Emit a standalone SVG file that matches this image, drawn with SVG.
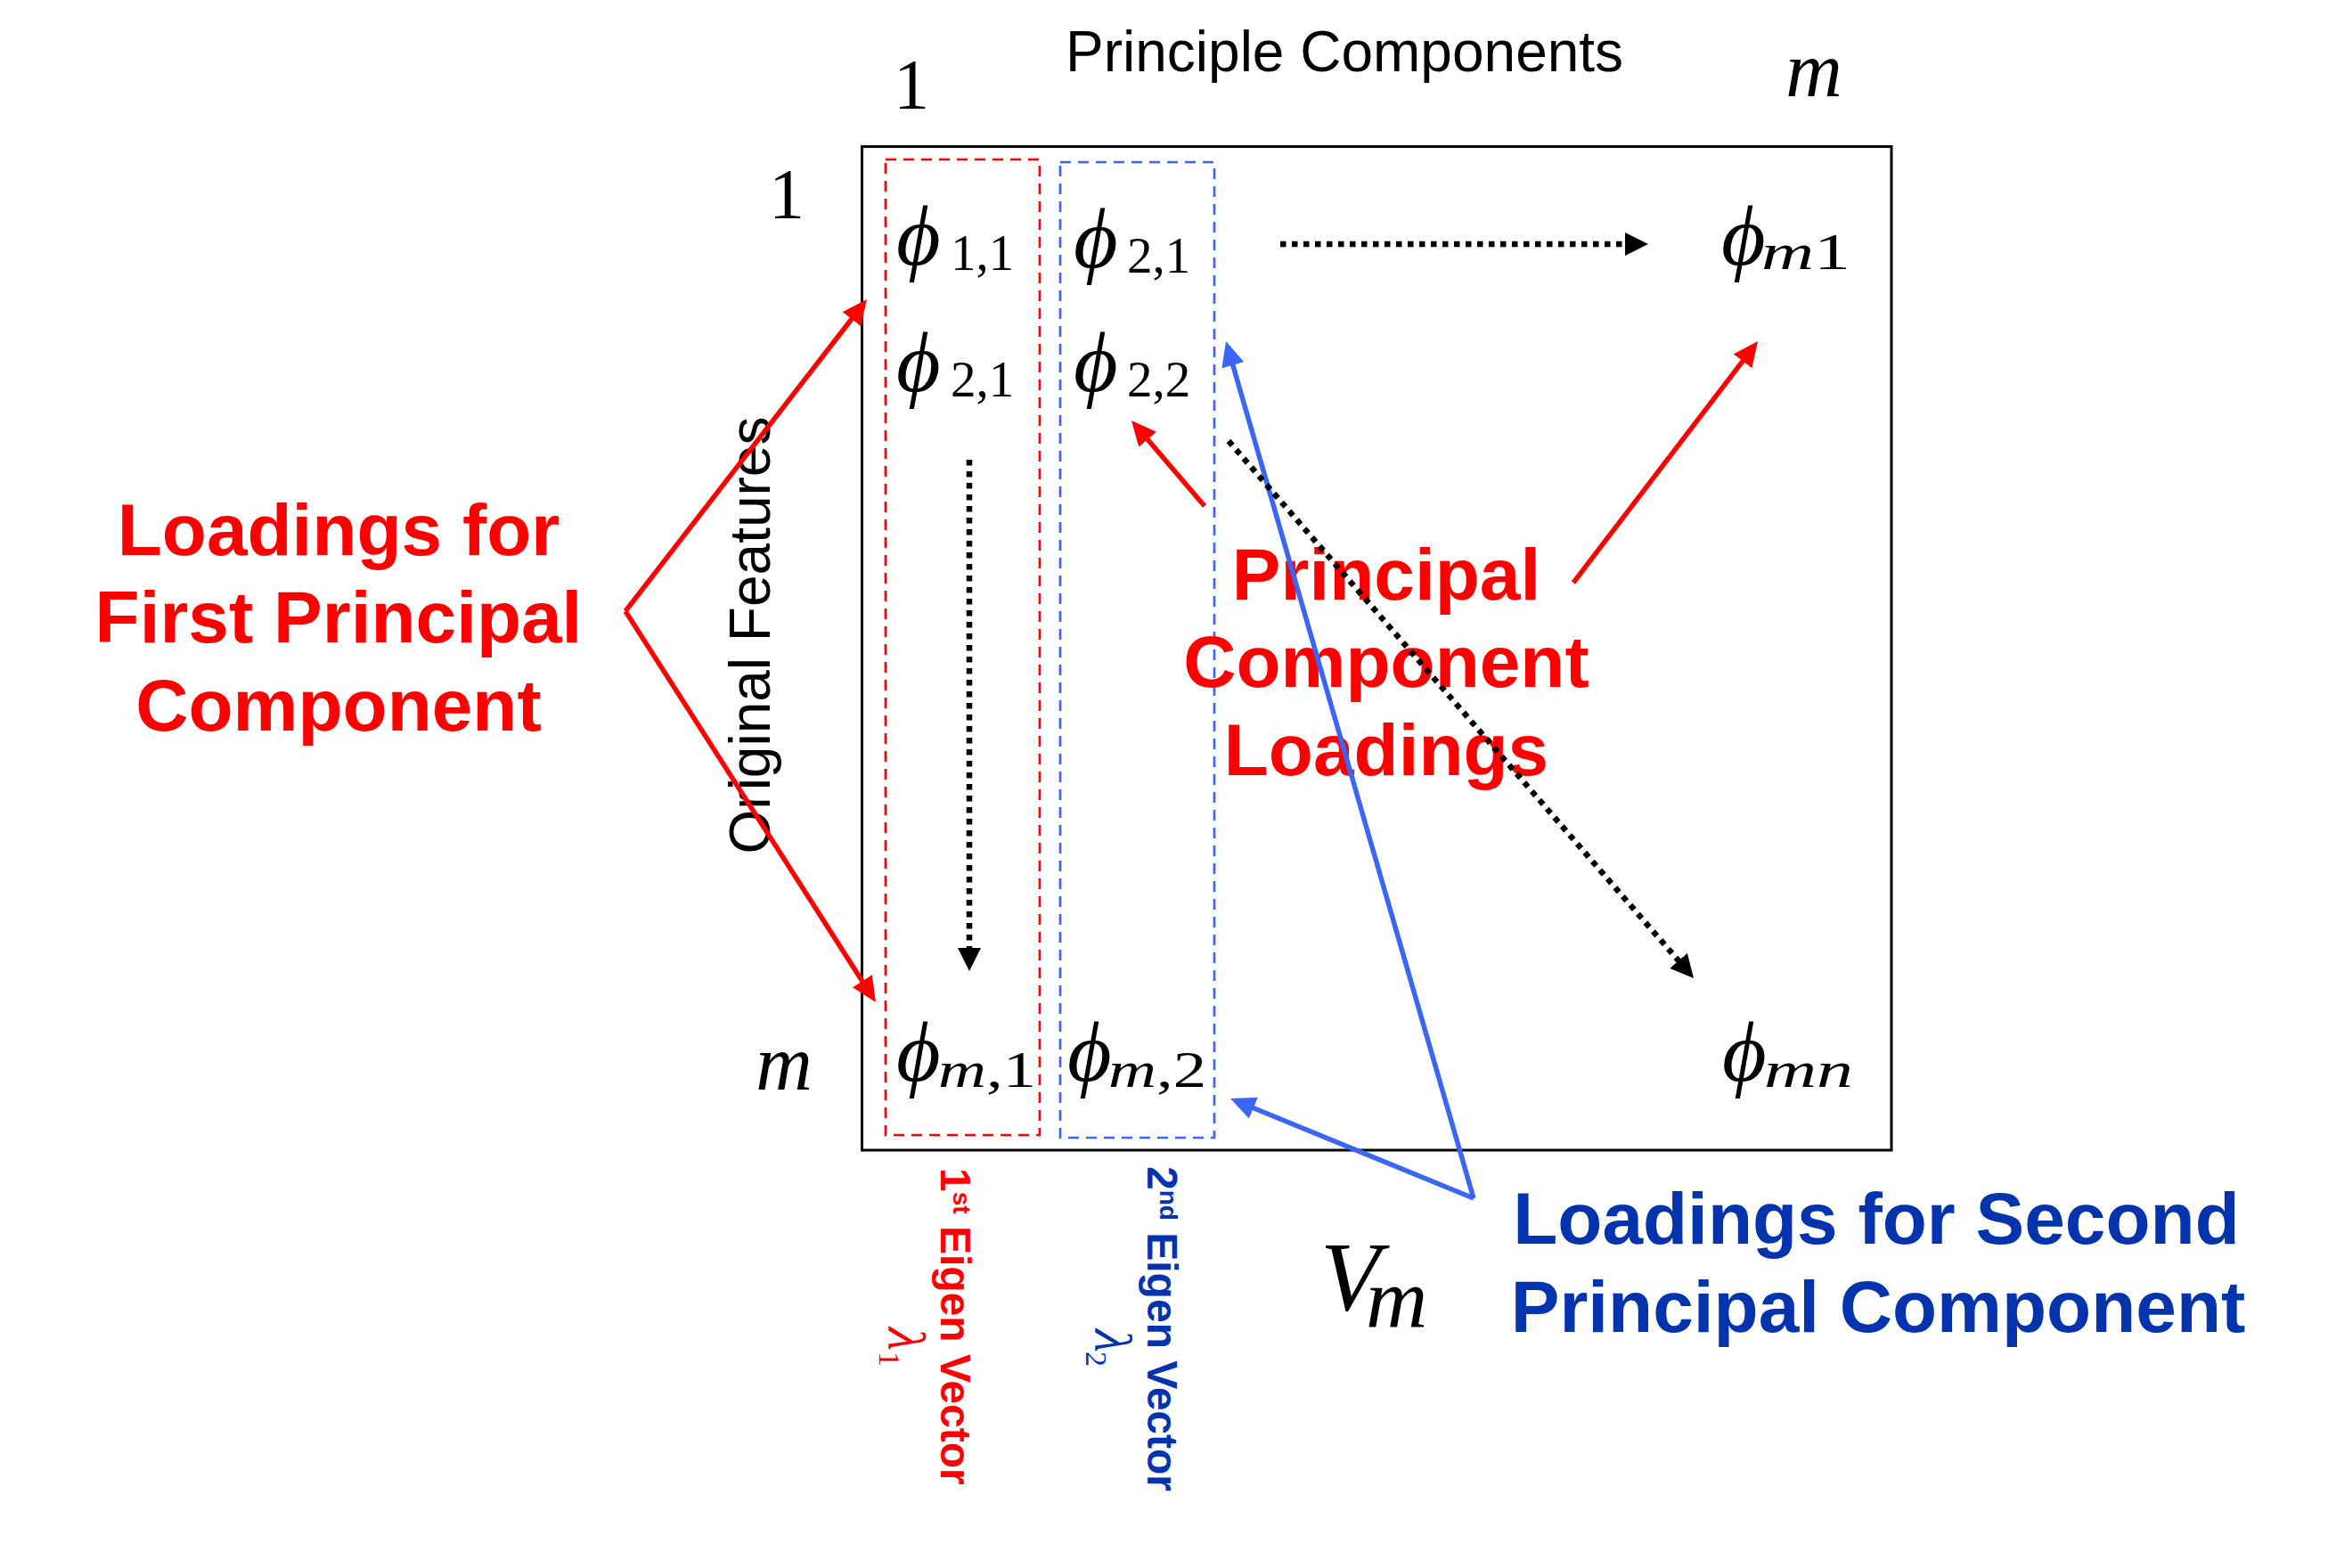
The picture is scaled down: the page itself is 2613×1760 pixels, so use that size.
<svg xmlns="http://www.w3.org/2000/svg" width="2613" height="1760" viewBox="0 0 2613 1760">
<style>
.sans{font-family:"Liberation Sans",Arial,sans-serif;}
.bold{font-family:"Liberation Sans",Arial,sans-serif;font-weight:bold;}
.red{fill:#FF0000;}
.dblue{fill:#0333AD;}
.serif{font-family:"Liberation Serif","DejaVu Serif",serif;}
.it{font-style:italic;}
.phi{font-family:"Liberation Serif","DejaVu Serif",serif;font-style:italic;font-size:96px;fill:#000;}
.sub{font-family:"Liberation Serif","DejaVu Serif",serif;font-size:57px;fill:#000;}
.big{font-size:82px;}
.redline{stroke:#FF0000;stroke-width:5.5;fill:none;}
.blueline{stroke:#3A66F5;stroke-width:5.5;fill:none;}
.dotline{stroke:#000;stroke-width:6.5;stroke-dasharray:6.5 6.5;fill:none;}
</style>
<defs>
<marker id="ah-red" markerUnits="userSpaceOnUse" viewBox="0 0 28 26" markerWidth="28" markerHeight="26" refX="21" refY="13" orient="auto"><path d="M0,0 L28,13 L0,26 z" fill="#FF0000"/></marker>
<marker id="ah-blue" markerUnits="userSpaceOnUse" viewBox="0 0 28 26" markerWidth="28" markerHeight="26" refX="21" refY="13" orient="auto"><path d="M0,0 L28,13 L0,26 z" fill="#3A66F5"/></marker>
<marker id="ah-black" markerUnits="userSpaceOnUse" viewBox="0 0 26 26" markerWidth="26" markerHeight="26" refX="18" refY="13" orient="auto"><path d="M0,0 L26,13 L0,26 z" fill="#000"/></marker>
</defs>
<rect width="2613" height="1760" fill="#fff"/>

<g id="matrix">
<rect x="967.5" y="164.5" width="1155.5" height="1126.5" fill="none" stroke="#000" stroke-width="3"/>
</g>
<g id="eigvec1-box">
<rect x="994" y="179" width="173" height="1095" fill="none" stroke="#FF0000" stroke-width="2.7" stroke-dasharray="12 8"/>
</g>
<g id="eigvec2-box">
<rect x="1190" y="182" width="173" height="1095" fill="none" stroke="#3A66F5" stroke-width="2.7" stroke-dasharray="12 8"/>
</g>

<g id="title">
<text class="sans" x="1196" y="80" font-size="64" fill="#000">Principle Components</text>
</g>
<g id="col-label-1"><text class="serif" x="1023" y="122" font-size="80" text-anchor="middle">1</text></g>
<g id="col-label-m"><text class="serif it" x="2036" y="108" font-size="88" text-anchor="middle">m</text></g>
<g id="row-label-1"><text class="serif" x="883" y="245" font-size="80" text-anchor="middle">1</text></g>
<g id="row-label-m"><text class="serif it" x="880" y="1223" font-size="88" text-anchor="middle">m</text></g>
<g id="axis-original-features">
<text class="sans" transform="translate(864,713) rotate(-90)" x="0" y="0" font-size="64" text-anchor="middle">Original Features</text>
</g>

<g id="phi-1-1"><text class="phi" x="1006" y="297">ϕ</text><text class="sub" x="1067" y="303">1,1</text></g>
<g id="phi-2-1-top"><text class="phi" x="1205" y="300">ϕ</text><text class="sub" x="1265" y="306">2,1</text></g>
<g id="phi-m1"><text class="phi" x="1932" y="297">ϕ</text><text class="sub" x="1977" y="302" textLength="100" lengthAdjust="spacingAndGlyphs"><tspan class="it">m</tspan>1</text></g>
<g id="phi-2-1"><text class="phi" x="1006" y="439">ϕ</text><text class="sub" x="1067" y="445">2,1</text></g>
<g id="phi-2-2"><text class="phi" x="1205" y="439">ϕ</text><text class="sub" x="1265" y="445">2,2</text></g>
<g id="phi-m-1"><text class="phi" x="1006" y="1213">ϕ</text><text class="sub" x="1053" y="1220" textLength="110" lengthAdjust="spacingAndGlyphs"><tspan class="it">m</tspan>,1</text></g>
<g id="phi-m-2"><text class="phi" x="1198" y="1213">ϕ</text><text class="sub" x="1244" y="1220" textLength="110" lengthAdjust="spacingAndGlyphs"><tspan class="it">m</tspan>,2</text></g>
<g id="phi-mn"><text class="phi" x="1933" y="1213">ϕ</text><text class="sub it" x="1980" y="1220" textLength="100" lengthAdjust="spacingAndGlyphs">mn</text></g>

<g id="label-vm">
<text class="serif it" x="1482" y="1470" font-size="110">V</text>
<text class="serif it" x="1533" y="1490" font-size="96">m</text>
</g>

<g id="label-first-pc">
<text class="bold red big" text-anchor="middle" x="380" y="623">Loadings for</text>
<text class="bold red big" text-anchor="middle" x="380" y="721">First Principal</text>
<text class="bold red big" text-anchor="middle" x="380" y="820">Component</text>
</g>
<g id="label-pc-loadings">
<text class="bold red big" text-anchor="middle" x="1556" y="673">Principal</text>
<text class="bold red big" text-anchor="middle" x="1556" y="771">Component</text>
<text class="bold red big" text-anchor="middle" x="1556" y="870">Loadings</text>
</g>
<g id="label-second-pc">
<text class="bold dblue big" text-anchor="middle" x="2106" y="1396">Loadings for Second</text>
<text class="bold dblue big" text-anchor="middle" x="2108" y="1495">Principal Component</text>
</g>

<g id="label-eig1">
<text class="bold red" transform="translate(1056,1311) rotate(90)" x="0" y="0" font-size="48">1<tspan font-size="28" dy="-14">st</tspan><tspan dy="14"> Eigen Vector</tspan></text>
<text class="serif it red" transform="translate(997,1490) rotate(90)" x="0" y="0" font-size="60">λ</text>
<text class="serif red" transform="translate(987,1517) rotate(90)" x="0" y="0" font-size="34">1</text>
</g>
<g id="label-eig2">
<text class="bold dblue" transform="translate(1288,1309) rotate(90)" x="0" y="0" font-size="48">2<tspan font-size="28" dy="-14">nd</tspan><tspan dy="14"> Eigen Vector</tspan></text>
<text class="serif it dblue" transform="translate(1229,1492) rotate(90)" x="0" y="0" font-size="60">λ</text>
<text class="serif dblue" transform="translate(1219,1517) rotate(90)" x="0" y="0" font-size="34">2</text>
</g>

<g id="connectors">
<line class="redline" x1="702" y1="686" x2="968.7" y2="341.5" marker-end="url(#ah-red)"/>
<line class="redline" x1="702" y1="686" x2="979.2" y2="1119" marker-end="url(#ah-red)"/>
<line class="redline" x1="1352" y1="568" x2="1274.5" y2="477.3" marker-end="url(#ah-red)"/>
<line class="redline" x1="1766" y1="654" x2="1968.8" y2="388.6" marker-end="url(#ah-red)"/>
<line class="blueline" x1="1654" y1="1345" x2="1378" y2="389.7" marker-end="url(#ah-blue)"/>
<line class="blueline" x1="1654" y1="1345" x2="1387.5" y2="1235.7" marker-end="url(#ah-blue)"/>
<line class="dotline" x1="1437" y1="274" x2="1842" y2="274" marker-end="url(#ah-black)"/>
<line class="dotline" x1="1088" y1="516" x2="1088" y2="1082" marker-end="url(#ah-black)"/>
<line class="dotline" x1="1379" y1="495" x2="1895.8" y2="1092" marker-end="url(#ah-black)"/>
</g>
</svg>
